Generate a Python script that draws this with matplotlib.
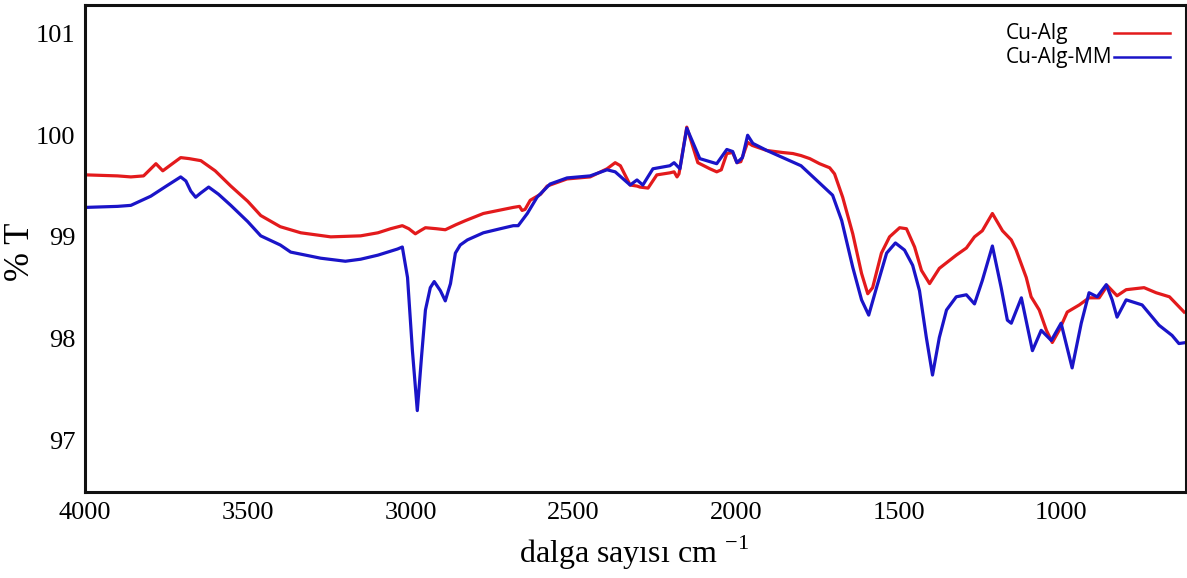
import numpy as np
import matplotlib
matplotlib.use("Agg")
import matplotlib.pyplot as plt

# wavenumber (cm-1) and transmittance (%T)
wn_alg = [3997, 3900, 3859, 3820, 3782, 3770, 3761, 3740, 3706, 3680, 3644, 3600,
          3552, 3500, 3460, 3400, 3337, 3245, 3153, 3100, 3061, 3025, 3005, 2985,
          2970, 2954, 2920, 2893, 2860, 2831, 2776, 2684, 2665, 2657, 2648, 2632,
          2600, 2580, 2519, 2448, 2396, 2371, 2355, 2325, 2304, 2295, 2270, 2243,
          2203, 2190, 2181, 2175, 2151, 2117, 2080, 2059, 2045, 2028, 2010, 1997,
          1985, 1964, 1950, 1905, 1856, 1825, 1800, 1773, 1743, 1712, 1697, 1672,
          1641, 1614, 1595, 1580, 1553, 1528, 1497, 1476, 1451, 1430, 1405, 1375,
          1323, 1292, 1267, 1243, 1212, 1181, 1154, 1139, 1108, 1093, 1068, 1046,
          1028, 1007, 982, 945, 915, 884, 859, 829, 801, 746, 709, 668, 623]
t_alg = [99.61, 99.60, 99.59, 99.60, 99.72, 99.68, 99.65, 99.70, 99.78, 99.77, 99.75, 99.65,
         99.50, 99.35, 99.21, 99.10, 99.04, 99.00, 99.01, 99.04, 99.08, 99.11, 99.08, 99.03,
         99.06, 99.09, 99.08, 99.07, 99.12, 99.16, 99.23, 99.29, 99.30, 99.26, 99.27, 99.36,
         99.42, 99.50, 99.57, 99.59, 99.67, 99.73, 99.70, 99.51, 99.50, 99.49, 99.48, 99.61,
         99.63, 99.64, 99.59, 99.62, 100.08, 99.73, 99.67, 99.64, 99.66, 99.82, 99.83, 99.73,
         99.74, 99.93, 99.90, 99.85, 99.83, 99.82, 99.80, 99.77, 99.72, 99.68, 99.62, 99.39,
         99.03, 98.64, 98.44, 98.50, 98.84, 99.00, 99.09, 99.08, 98.90, 98.67, 98.54, 98.69,
         98.82, 98.89, 99.00, 99.06, 99.23, 99.06, 98.97, 98.87, 98.60, 98.41, 98.28, 98.08,
         97.96, 98.08, 98.26, 98.33, 98.40, 98.40, 98.52, 98.42, 98.48, 98.50, 98.45, 98.41, 98.26]

wn_mm = [3997, 3900, 3859, 3798, 3750, 3706, 3690, 3675, 3660, 3645, 3620, 3590,
         3552, 3500, 3460, 3400, 3368, 3276, 3200, 3153, 3100, 3040, 3025, 3009,
         2994, 2979, 2966, 2954, 2939, 2927, 2908, 2893, 2877, 2862, 2847, 2825,
         2776, 2724, 2684, 2669, 2641, 2611, 2571, 2519, 2448, 2396, 2371, 2325,
         2304, 2286, 2255, 2203, 2190, 2172, 2151, 2111, 2059, 2028, 2010, 1997,
         1980, 1964, 1948, 1905, 1856, 1800, 1743, 1703, 1675, 1641, 1614, 1592,
         1568, 1537, 1510, 1482, 1457, 1436, 1415, 1396, 1375, 1353, 1323, 1292,
         1267, 1243, 1212, 1185, 1166, 1154, 1123, 1089, 1062, 1031, 1001, 967,
         939, 915, 890, 862, 844, 829, 801, 752, 700, 660, 639, 617]
t_mm = [99.29, 99.30, 99.31, 99.40, 99.50, 99.59, 99.55, 99.45, 99.39, 99.43, 99.49, 99.42,
        99.31, 99.15, 99.01, 98.92, 98.85, 98.79, 98.76, 98.78, 98.82, 98.88, 98.90, 98.60,
        97.88, 97.29, 97.82, 98.28, 98.50, 98.56, 98.47, 98.37, 98.54, 98.84, 98.92, 98.97,
        99.04, 99.08, 99.11, 99.11, 99.23, 99.39, 99.52, 99.58, 99.60, 99.66, 99.64, 99.51,
        99.56, 99.51, 99.67, 99.70, 99.73, 99.67, 100.07, 99.77, 99.72, 99.86, 99.84, 99.73,
        99.78, 100.00, 99.92, 99.85, 99.78, 99.70, 99.53, 99.41, 99.16, 98.70, 98.38, 98.23,
        98.50, 98.84, 98.94, 98.87, 98.72, 98.47, 98.01, 97.64, 98.01, 98.28, 98.41, 98.43,
        98.34, 98.57, 98.91, 98.50, 98.18, 98.15, 98.40, 97.88, 98.08, 97.98, 98.15, 97.71,
        98.15, 98.45, 98.41, 98.53, 98.38, 98.21, 98.38, 98.33, 98.13, 98.03, 97.95, 97.96]

labels = ["Cu-Alg", "Cu-Alg-MM"]
colors = ["#e31a1c", "#1a14c8"]
x_ticks = [4000, 3500, 3000, 2500, 2000, 1500, 1000]
y_ticks = [97, 98, 99, 100, 101]

serif = "Liberation Serif"

fig = plt.figure(figsize=(11.87, 5.78), dpi=100)
ax = fig.add_axes([0.0716, 0.149, 0.9276, 0.842])

ax.plot(wn_alg, t_alg, color=colors[0], lw=2.3, solid_joinstyle="round")
ax.plot(wn_mm, t_mm, color=colors[1], lw=2.3, solid_joinstyle="round")

ax.set_xlim(4000, 617)
ax.set_ylim(96.49, 101.28)
ax.set_xticks(x_ticks)
ax.set_yticks(y_ticks)
ax.tick_params(length=0, pad=7, labelsize=19)
for lab in ax.get_xticklabels() + ax.get_yticklabels():
    lab.set_fontfamily(serif)
for s in ax.spines.values():
    s.set_linewidth(2.2)
    s.set_color("#111111")

ax.set_xlabel("dalga sayısı cm $^{\\mathregular{-1}}$", fontsize=23, family=serif)
ax.set_ylabel("% T", fontsize=25, family=serif)
ax.xaxis.set_label_coords(0.499, -0.085)
ax.yaxis.set_label_coords(-0.044, 0.493)

# legend: text column left aligned, line swatch after it
for i, (lab, c) in enumerate(zip(labels, colors)):
    yy = 0.9425 - i * 0.0495
    ax.text(0.836, yy, lab, transform=ax.transAxes, fontsize=15,
            family="Open Sans", va="center", ha="left")
    ax.plot([0.935, 0.985], [yy, yy], transform=ax.transAxes, color=c, lw=1.8)

fig.savefig("out.png", dpi=100)
